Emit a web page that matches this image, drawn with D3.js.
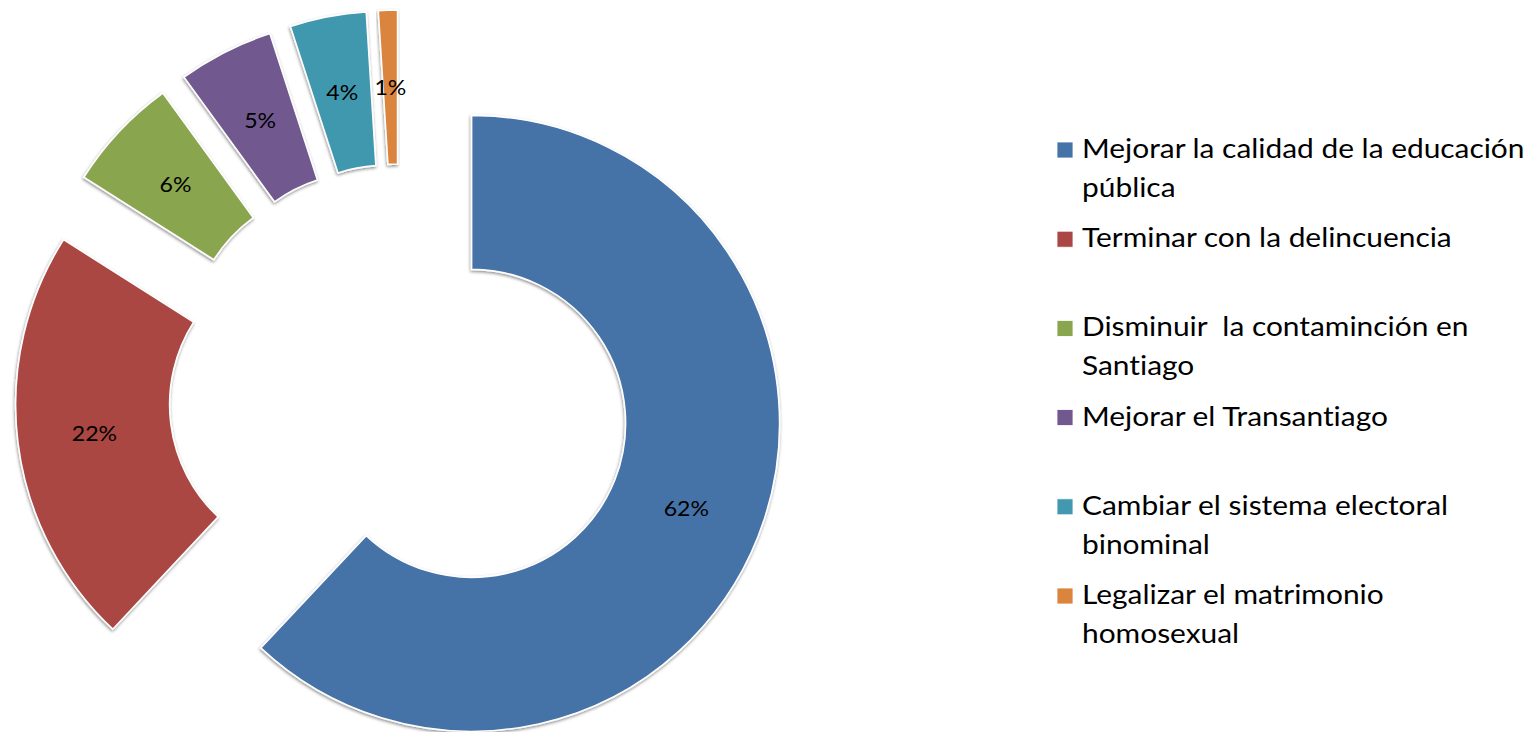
<!DOCTYPE html>
<html>
<head>
<meta charset="utf-8">
<script src="https://cdn.jsdelivr.net/npm/d3@7"></script>
<style>
  html, body { margin: 0; padding: 0; background: #fff; }
  svg { display: block; }
  text { font-family: Lato, "Open Sans", sans-serif; font-variant-ligatures: none; font-feature-settings: "liga" 0, "clig" 0; }
</style>
</head>
<body>
<svg id="chart" width="1537" height="732"></svg>
<script>
// ---- data ----
const categories = [
  "Mejorar la calidad de la educación\npública",
  "Terminar con la delincuencia",
  "Disminuir  la contaminción en\nSantiago",
  "Mejorar el Transantiago",
  "Cambiar el sistema electoral\nbinominal",
  "Legalizar el matrimonio\nhomosexual"
];
const values = [62, 22, 6, 5, 4, 1];
const valueLabels = ["62%", "22%", "6%", "5%", "4%", "1%"];
const colors = ["#4572A7", "#AA4643", "#89A54E", "#71588F", "#4198AF", "#DB843D"];

// ---- layout ----
const W = 1537, H = 732;
const cx = 400, cy = 395;
const outerR = 308, innerR = 154;
const explode = 77;

const svg = d3.select("#chart");
const defs = svg.append("defs");
const f = defs.append("filter").attr("id", "shadow")
  .attr("x", "-10%").attr("y", "-10%").attr("width", "120%").attr("height", "120%");
f.append("feDropShadow").attr("dx", -0.5).attr("dy", 1.5)
  .attr("stdDeviation", 1.6).attr("flood-color", "#000").attr("flood-opacity", 0.45);

const data = categories.map((c, i) => ({ cat: c, value: values[i], label: valueLabels[i], color: colors[i] }));
const pie = d3.pie().value(d => d.value).sort(null).startAngle(0).endAngle(2 * Math.PI);
const arc = d3.arc().innerRadius(innerR).outerRadius(outerR);
const arcs = pie(data);

const g = svg.append("g").attr("transform", `translate(${cx},${cy})`);
const slices = g.selectAll("g.slice").data(arcs).join("g")
  .attr("class", "slice")
  .attr("transform", d => {
    const a = (d.startAngle + d.endAngle) / 2;
    return `translate(${explode * Math.sin(a)},${-explode * Math.cos(a)})`;
  });

slices.append("path")
  .attr("d", arc)
  .attr("fill", d => d.data.color)
  .attr("stroke", "#fff")
  .attr("stroke-width", 1.6)
  .attr("stroke-linejoin", "miter")
  .attr("filter", "url(#shadow)");

slices.append("text")
  .attr("transform", d => `translate(${arc.centroid(d)}) scale(1.1,1)`)
  .attr("text-anchor", "middle")
  .attr("dy", "0.36em")
  .attr("font-size", 21)
  .attr("fill", "#000")
  .text(d => d.data.label);

// ---- legend ----
const legX = 1057, legFirstBaseline = 158, itemStep = 89.2, lineH = 39;
const leg = svg.append("g");
data.forEach((d, i) => {
  const base = legFirstBaseline + i * itemStep;
  leg.append("rect")
    .attr("x", legX).attr("y", base - 16)
    .attr("width", 16).attr("height", 16)
    .attr("fill", d.color)
    .attr("stroke", "#fff").attr("stroke-width", 0.8);
  const t = leg.append("text")
    .attr("transform", `translate(${legX + 25},${base}) scale(1.15,1)`)
    .attr("font-size", 26).attr("fill", "#000")
    .style("white-space", "pre");
  d.cat.split("\n").forEach((line, j) => {
    t.append("tspan").attr("x", 0).attr("y", j * lineH).text(line);
  });
});
</script>
</body>
</html>
